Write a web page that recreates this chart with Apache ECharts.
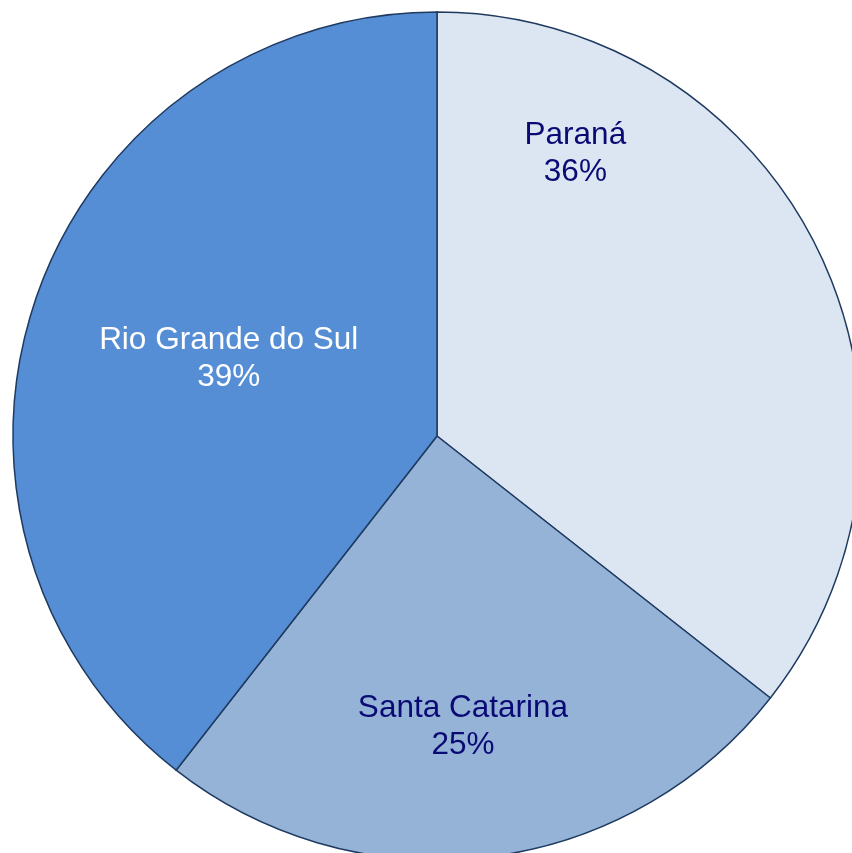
<!DOCTYPE html>
<html><head><meta charset="utf-8">
<script src="https://cdn.jsdelivr.net/npm/echarts@6/dist/echarts.min.js"></script>
<style>html,body{margin:0;padding:0;background:#fff}#c{width:852px;height:853px}</style>
</head><body><div id="c"></div>
<script>
const categories = ['Paraná', 'Santa Catarina', 'Rio Grande do Sul'];
const values = [35.6, 24.95, 39.45];
const colors = ['#DCE6F2', '#95B3D7', '#558ED5'];
const labelColors = ['#0A0A75', '#0A0A75', '#FFFFFF'];
const labelOffsets = [[-55, -188], [0, 77], [-5, -7]];

const chart = echarts.init(document.getElementById('c'));
chart.setOption({
  animation: false,
  series: [{
    type: 'pie',
    center: [437, 436],
    radius: [0, 424],
    startAngle: 90,
    clockwise: true,
    avoidLabelOverlap: false,
    itemStyle: { borderColor: '#1F3A60', borderWidth: 1.5 },
    label: {
      show: true,
      position: 'inside',
      fontFamily: 'Liberation Sans, Arial, sans-serif',
      fontSize: 31.5,
      lineHeight: 37,
      align: 'center',
      formatter: p => p.name + '\n' + Math.round(p.percent) + '%'
    },
    labelLine: { show: false },
    emphasis: { disabled: true },
    data: categories.map((n, i) => ({
      name: n, value: values[i],
      itemStyle: { color: colors[i] },
      label: { color: labelColors[i], offset: labelOffsets[i] }
    }))
  }]
});
</script></body></html>
